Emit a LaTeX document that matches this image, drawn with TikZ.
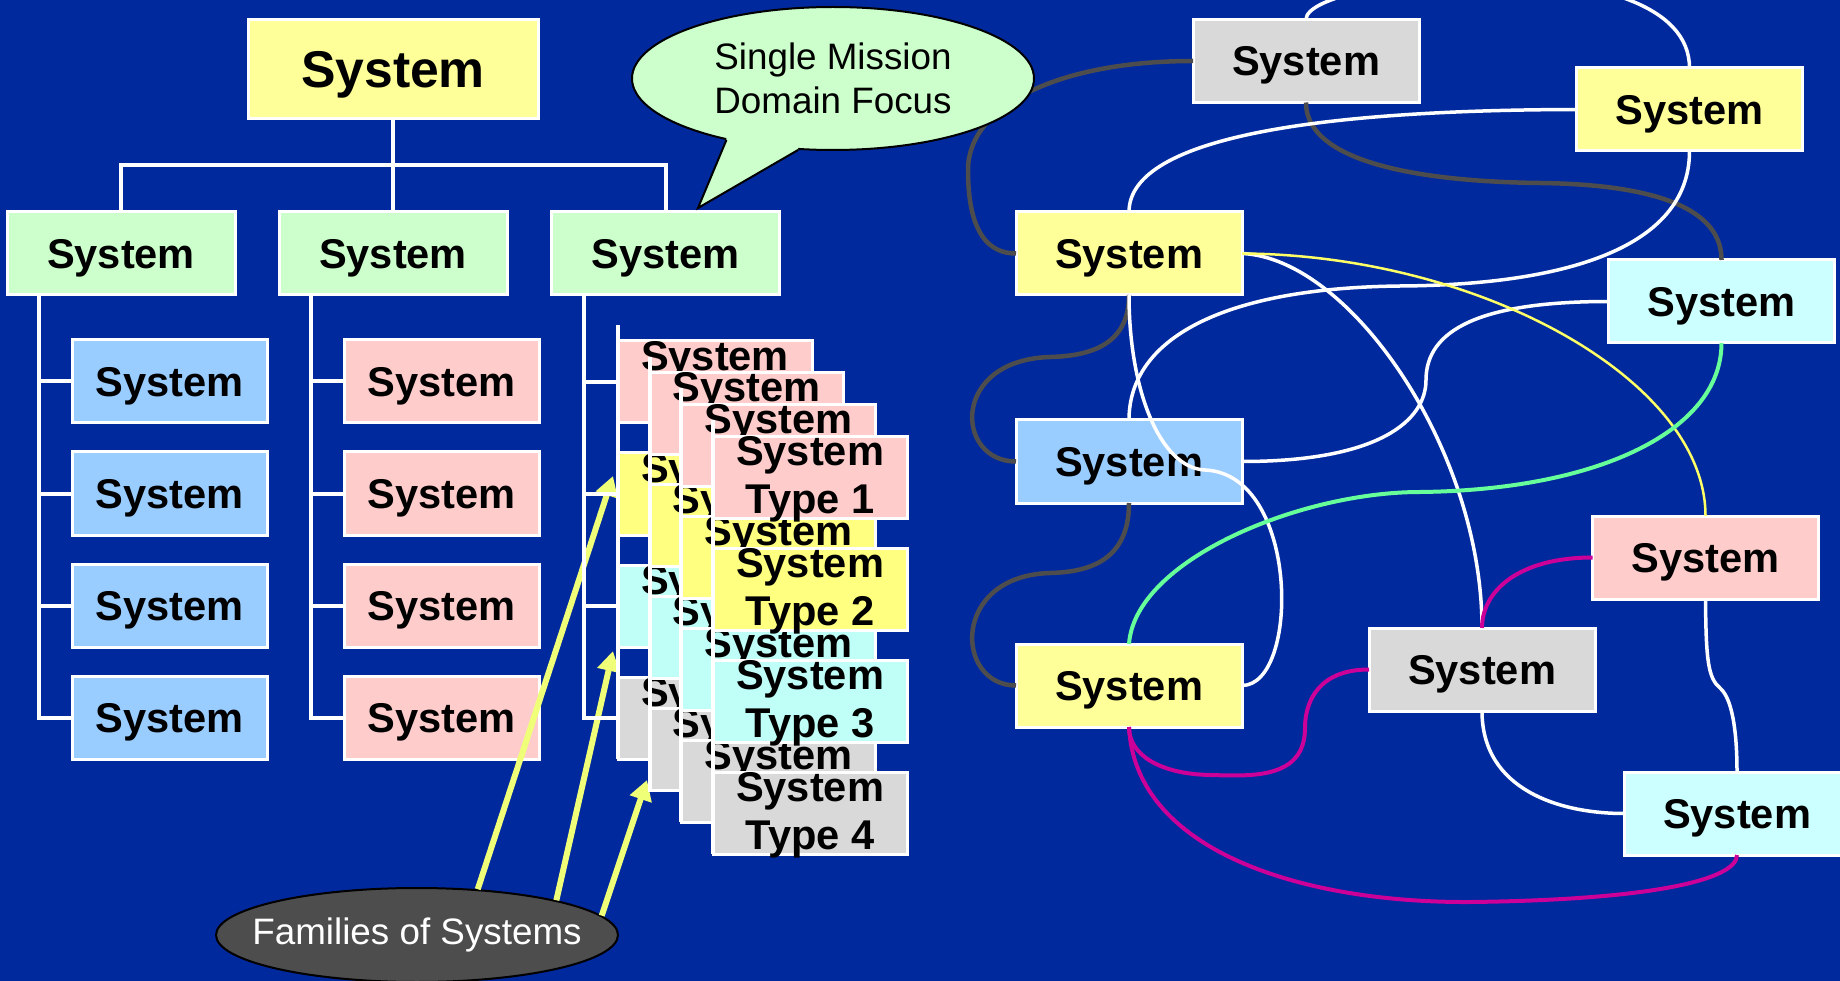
\documentclass[tikz,border=0pt]{standalone}
\usepackage{fontspec}
\setmainfont{Liberation Sans}
\usetikzlibrary{arrows.meta,shapes.geometric}

\definecolor{bgblue}{RGB}{0,41,158}
\definecolor{boxyellow}{RGB}{255,255,153}
\definecolor{boxgreen}{RGB}{204,255,204}
\definecolor{boxblue}{RGB}{153,204,255}
\definecolor{boxpink}{RGB}{255,204,204}
\definecolor{boxgray}{RGB}{217,217,217}
\definecolor{boxcyan}{RGB}{204,255,255}
\definecolor{styellow}{RGB}{255,255,128}
\definecolor{stcyan}{RGB}{191,255,247}
\definecolor{linkgray}{RGB}{77,77,77}
\definecolor{linkmagenta}{RGB}{204,0,153}
\definecolor{linkgreen}{RGB}{102,255,153}
\definecolor{linkyellow}{RGB}{255,255,102}
\definecolor{arrowyellow}{RGB}{240,255,120}
\definecolor{famgray}{RGB}{77,77,77}

\newcommand{\sysfnt}{\fontsize{41.6}{48}\selectfont\bfseries}
\newcommand{\topfnt}{\fontsize{51.7}{60}\selectfont\bfseries}
\newcommand{\notefnt}{\fontsize{36.8}{44.5}\selectfont}

\tikzset{
  sysbox/.style={draw=white, line width=3pt, outer sep=0pt, inner sep=0pt,
    minimum width=226pt, minimum height=83pt, font=\sysfnt, text depth=0pt},
  topbox/.style={sysbox, fill=boxyellow, minimum width=290pt, minimum height=99pt, font=\topfnt},
  midbox/.style={sysbox, fill=boxgreen, minimum width=228pt},
  leafbox/.style={sysbox, minimum width=195pt},
  layerbox/.style={sysbox, minimum width=194pt, minimum height=82pt},
  layertext/.style={anchor=north, inner sep=0pt, align=center, font=\sysfnt},
  treeline/.style={white, line width=4pt},
  whitelink/.style={white, line width=3.5pt},
  darklink/.style={linkgray, line width=4.5pt},
  magentalink/.style={linkmagenta, line width=4pt},
  greenlink/.style={linkgreen, line width=4pt},
  yellowlink/.style={linkyellow, line width=2.5pt},
  famarrow/.style={arrowyellow, line width=6pt, -{Triangle[length=20pt,width=22pt]}},
  bubble/.style={ellipse, draw=black, line width=2pt, fill=boxgreen, minimum width=402pt,
    minimum height=143pt, inner sep=0pt, align=center, font=\notefnt},
  family/.style={ellipse, draw=black, line width=2pt, fill=famgray, minimum width=402pt,
    minimum height=94pt, inner sep=0pt},
  famtext/.style={text=white, font=\notefnt, inner sep=0pt}
}

\begin{document}
\begin{tikzpicture}[x=1pt,y=-1pt,>=latex]
   \useasboundingbox (0,0) rectangle (1840,981);
   \fill[bgblue] (0,0) rectangle (1840,981);
   \clip (0,0) rectangle (1840,981);
   %hierarchy
   \node[topbox] (top) at (393,69.5) {System};
   \node[midbox] (m1) at (121,253.5) {System};
   \node[midbox] (m2) at (393,253.5) {System};
   \node[midbox] (m3) at (665.5,253.5) {System};
   \draw[treeline] (top.south) -- (m2.north);
   \draw[treeline] (m1.north) -- ++(0,-47) -| (m3.north);
   %leaves
   \foreach \r in {1,...,4}{
      \node[leafbox,fill=boxblue] (a\r) at (169.5,269.5+112*\r) {System};
      \node[leafbox,fill=boxpink] (b\r) at (441.5,269.5+112*\r) {System};
      \draw[treeline] (a\r.west) -- ++(-33,0);
      \draw[treeline] (b\r.west) -- ++(-33,0);
   }
   \draw[treeline] (m1.south west) ++(32,0) |- (a4.west);
   \draw[treeline] (m2.south west) ++(32,0) |- (b4.west);
   %families
   \node[family] (fam) at (417,935) {};
   \node[famtext] (famlabel) at (fam.center) {Families of Systems};
   \coordinate (tip1) at (613,476);
   \coordinate (tip2) at (613,651);
   \coordinate (tip3) at (647,780);
   \draw[famarrow] (fam.37) -- (tip1);
   \draw[famarrow] (fam.14) -- (tip2);
   \draw[famarrow] (fam.6) -- (tip3);
   %stacked types
   \foreach \k in {1,...,4}{
      \pgfmathsetmacro\lx{618+31.7*(\k-1)}
      \pgfmathsetmacro\ty{341+31.7*(\k-1)}
      \foreach \r/\c in {1/boxpink,2/styellow,3/stcyan,4/boxgray}{
         \node[layerbox,fill=\c] (L\k-\r) at (\lx+97,\ty+41+112*\r-112) {};
      }
      \draw[treeline] ([yshift=16pt]L\k-1.north west) -- (L\k-4.south west);
      \foreach \r in {1,...,4}{
         \node[layertext] at (L\k-\r.north) {System\\Type \r};
      }
   }
   \draw[treeline] (m3.south west) ++(32,0) |- (L1-4.west);
   \foreach \r in {1,2,3}{
      \draw[treeline] (L1-\r.west) -- ++(-34,0);
   }
   %network
   \node[sysbox,fill=boxgray] (grayTop) at (1306,61) {System};
   \node[sysbox,fill=boxyellow] (yellowTop) at (1689.5,109.5) {System};
   \node[sysbox,fill=boxyellow] (yellowMid) at (1129,253.5) {System};
   \node[sysbox,fill=boxcyan] (cyanMid) at (1721.5,301.5) {System};
   \node[sysbox,fill=boxblue] (blueMid) at (1129,461.5) {System};
   \node[sysbox,fill=boxpink] (pinkLow) at (1705.5,557.5) {System};
   \node[sysbox,fill=boxyellow] (yellowLow) at (1129,685.5) {System};
   \node[sysbox,fill=boxgray] (grayLow) at (1482,669.5) {System};
   \node[sysbox,fill=boxcyan] (cyanLow) at (1737,813.5) {System};
   %dark links
   \draw[darklink] (grayTop.west) .. controls (1060,61) and (968,105) .. (968,170)
      .. controls (968,235) and (990,253.5) .. (yellowMid.west);
   \draw[darklink] (grayTop.south) .. controls (1306,170) and (1450,182) .. (1540,183)
      .. controls (1700,185) and (1721.5,230) .. (cyanMid.north);
   \draw[darklink] (yellowMid.south) .. controls (1129,345) and (1090,356) .. (1050,357)
      .. controls (950,360) and (955,461.5) .. (blueMid.west);
   \draw[darklink] (blueMid.south) .. controls (1129,560) and (1090,572) .. (1050,573)
      .. controls (950,576) and (955,685.5) .. (yellowLow.west);
   %white links
   \draw[whitelink] (grayTop.north) .. controls (1306,-25) and (1689.5,-60) .. (yellowTop.north);
   \draw[whitelink] (yellowTop.west) .. controls (1330,110) and (1129,135) .. (yellowMid.north);
   \draw[whitelink] (yellowTop.south) .. controls (1689.5,250) and (1560,285) .. (1400,286)
      .. controls (1220,288) and (1129,340) .. (blueMid.north);
   \draw[whitelink] (yellowMid.east) .. controls (1350,258) and (1482,450) .. (grayLow.north);
   \draw[whitelink] (blueMid.east) .. controls (1380,461.5) and (1426,420) .. (1426,380)
      .. controls (1426,330) and (1480,301.5) .. (cyanMid.west);
   \draw[whitelink] (grayLow.south) .. controls (1482,790) and (1560,813.5) .. (cyanLow.west);
   \draw[whitelink] (pinkLow.south) .. controls (1706,660) and (1708,678) .. (1720,688)
      .. controls (1734,700) and (1737,740) .. (cyanLow.north);
   \draw[whitelink] (yellowMid.south) .. controls (1129,390) and (1160,468) .. (1205,470)
      .. controls (1300,474) and (1300,685.5) .. (yellowLow.east);
   %colour links
   \draw[yellowlink] (yellowMid.east) .. controls (1480,255) and (1705.5,380) .. (pinkLow.north);
   \draw[greenlink] (yellowLow.north) .. controls (1135,560) and (1300,492) .. (1420,492)
      .. controls (1600,490) and (1721.5,430) .. (cyanMid.south);
   \draw[magentalink] (pinkLow.west) .. controls (1520,557.5) and (1482,590) .. (grayLow.north);
   \draw[magentalink] (grayLow.west) .. controls (1320,669.5) and (1305,700) .. (1305,728)
      .. controls (1305,780) and (1250,776) .. (1210,775)
      .. controls (1160,774) and (1129,755) .. (yellowLow.south);
   \draw[magentalink] (yellowLow.south) .. controls (1135,850) and (1300,903) .. (1470,902)
      .. controls (1650,900) and (1737,880) .. (cyanLow.south);
   %callout
   \node[bubble] (bub) at (833,78.5) {Single Mission\\Domain Focus};
   \coordinate (tip) at (698,208);
   \fill[boxgreen] (bub.210) -- (tip) -- (bub.244) -- ([yshift=3pt]bub.244) -- ([yshift=3pt]bub.210) -- cycle;
   \draw[line width=2pt,line join=miter] (bub.210) -- (tip) -- (bub.244);
\end{tikzpicture}
\end{document}
